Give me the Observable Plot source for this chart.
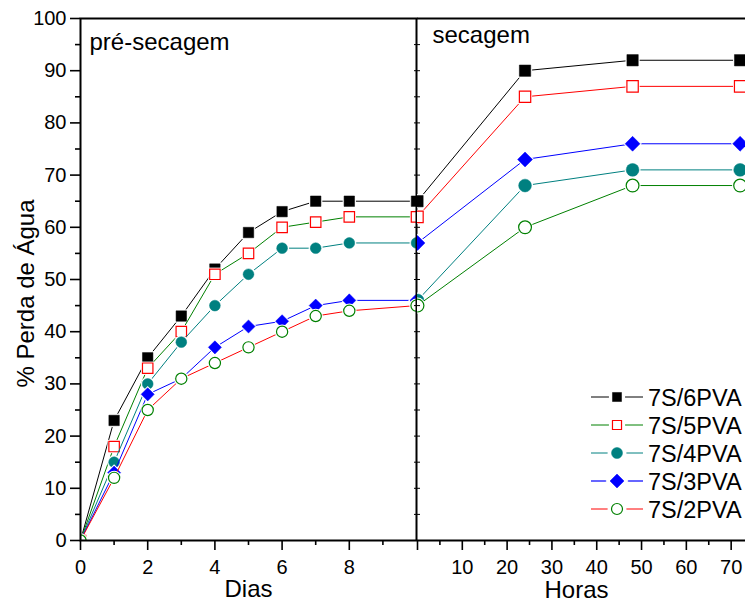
<!DOCTYPE html>
<html><head><meta charset="utf-8">
<script src="https://cdn.jsdelivr.net/npm/d3@7"></script>
<script src="https://cdn.jsdelivr.net/npm/@observablehq/plot@0.6"></script>
<style>
body{margin:0;background:#fff;}
#chart{position:relative;width:745px;height:604px;overflow:hidden;font-family:"Liberation Sans",Arial,sans-serif;background:#fff;}
#chart svg{position:absolute;top:0;max-width:none;}
</style></head><body><div id="chart"></div>
<script>
// ---- data ----
const series = ["7S/6PVA","7S/5PVA","7S/4PVA","7S/3PVA","7S/2PVA"];
const dias = [0,1,2,3,4,5,6,7,8,10];
const pre6PVA = [0,23,35,43,52,59,63,65,65,65];
const pre5PVA = [0,18,33,40,51,55,60,61,62,62];
const pre4PVA = [0,15,30,38,45,51,56,56,57,57];
const pre3PVA = [0,13,28,31,37,41,42,45,46,46];
const pre2PVA = [0,12,25,31,34,37,40,43,44,45];
const horas = [0,24,48,72];
const sec6PVA = [65,90,92,92];
const sec5PVA = [62,85,87,87];
const sec4PVA = [46,68,71,71];
const sec3PVA = [57,73,76,76];
const sec2PVA = [45,60,68,68];
const yTicks = [0,10,20,30,40,50,60,70,80,90,100];
const diasTicks = [0,2,4,6,8];
const horasTicks = [0,10,20,30,40,50,60,70];
const labelPre = "pré-secagem", labelSec = "secagem";
const labelY = "% Perda de Água", labelDias = "Dias", labelHoras = "Horas";

// ---- styles ----
const lineColorPre = ["#000000","#008000","#008080","#0000ff","#ff0000"];
const lineColorSec = ["#000000","#ff0000","#008080","#0000ff","#008000"];
const markColor = ["#000000","#ff0000","#008080","#0000ff","#008000"];
const markSymbol = ["square","square","circle","diamond2","circle"];
const markFilled = [true,false,true,true,false];
const rPre = [5.9,5.9,5.4,5.9,5.6];
const rSec = [6.4,6.4,6.4,6.7,6.4];

const preVals = [pre6PVA,pre5PVA,pre4PVA,pre3PVA,pre2PVA];
const secVals = [sec6PVA,sec5PVA,sec4PVA,sec3PVA,sec2PVA];
const preRows = series.map((s,i)=>dias.map((d,j)=>({serie:s,x:d,y:preVals[i][j]})));
const secRows = series.map((s,i)=>horas.map((h,j)=>({serie:s,x:h,y:secVals[i][j]})));

function seriesMarks(rows, lineColors, radii){
  const marks = [];
  rows.forEach((r,i)=>{
    marks.push(Plot.line(r,{x:"x",y:"y",stroke:lineColors[i],strokeWidth:1,clip:true}));
    marks.push(Plot.dot(r,{x:"x",y:"y",symbol:markSymbol[i],r:radii[i]+1.6,fill:"white",stroke:"none",clip:true}));
    marks.push(Plot.dot(r,{x:"x",y:"y",symbol:markSymbol[i],r:radii[i],
      fill:markFilled[i]?markColor[i]:"white",stroke:markColor[i],strokeWidth:markFilled[i]?0.5:1.2,clip:true}));
  });
  return marks;
}

const font = {fontFamily:"Liberation Sans, Arial, sans-serif", fontSize:"20px", background:"transparent", color:"black", overflow:"visible"};

const left = Plot.plot({
  width:417, height:604, marginLeft:80, marginRight:1, marginTop:18, marginBottom:64,
  style:font,
  x:{domain:[0,10]},
  y:{domain:[0,100]},
  marks:[
    ...seriesMarks(preRows,lineColorPre,rPre),
    Plot.frame({stroke:"black",strokeWidth:2}),
    Plot.axisY({ticks:yTicks,tickSize:10,tickPadding:4,strokeWidth:1.6,fontSize:20,label:null}),
    Plot.axisY({ticks:d3.range(5,100,10),tickSize:5,strokeWidth:1.6,text:null,label:null}),
    Plot.axisY({anchor:"right",ticks:d3.range(5,100,5),tickSize:-3,strokeWidth:1,text:null,label:null}),
    Plot.axisX({ticks:diasTicks,tickSize:10,tickPadding:9,strokeWidth:1.6,fontSize:20,label:null}),
    Plot.axisX({ticks:[1,3,5,7,9],tickSize:5,strokeWidth:1.6,text:null,label:null}),
    Plot.text([labelY],{text:d=>d,frameAnchor:"left",textAnchor:"middle",lineAnchor:"middle",rotate:-90,dx:-54,dy:14,fontSize:24}),
    Plot.text([labelDias],{text:d=>d,frameAnchor:"bottom",textAnchor:"middle",lineAnchor:"middle",dy:49,fontSize:24}),
    Plot.text([labelPre],{text:d=>d,frameAnchor:"top-left",textAnchor:"start",lineAnchor:"middle",dx:9,dy:24.3,fontSize:24})
  ]
});

const right = Plot.plot({
  width:328, height:604, marginLeft:0, marginRight:0, marginTop:18, marginBottom:64,
  style:font,
  x:{domain:[0,73.2]},
  y:{domain:[0,100]},
  marks:[
    ...seriesMarks(secRows,lineColorSec,rSec),
    Plot.ruleY([0,100],{stroke:"black",strokeWidth:2}),
    Plot.axisY({anchor:"left",ticks:d3.range(5,100,5),tickSize:-3,strokeWidth:1,text:null,label:null}),
    Plot.axisX({ticks:horasTicks,tickSize:10,tickPadding:9,strokeWidth:1.6,fontSize:20,label:null,tickFormat:d=>d===0?"":String(d)}),
    Plot.axisX({ticks:d3.range(5,70,10),tickSize:5,strokeWidth:1.6,text:null,label:null}),
    Plot.text([labelHoras],{text:d=>d,frameAnchor:"bottom",textAnchor:"middle",lineAnchor:"middle",dx:-5,dy:50,fontSize:24}),
    Plot.text([labelSec],{text:d=>d,frameAnchor:"top-left",textAnchor:"start",lineAnchor:"middle",dx:15,dy:17.3,fontSize:24})
  ]
});

const chart = document.getElementById("chart");
left.style.left = "0px";
right.style.left = "417px";
chart.appendChild(left);
chart.appendChild(right);

// ---- legend ----
const symbolMap = {square:d3.symbolSquare,circle:d3.symbolCircle,diamond2:d3.symbolDiamond2};
const legR = [5.1,5.1,5.5,6.3,5.5];
const leg = d3.select(chart).append("svg").attr("width",745).attr("height",604)
  .style("left","0px").style("font-family","Liberation Sans, Arial, sans-serif");
series.forEach((s,i)=>{
  const g = leg.append("g").attr("transform",`translate(0,${397+i*28})`);
  g.append("line").attr("x1",591).attr("x2",643).attr("y1",0).attr("y2",0)
    .attr("stroke",lineColorPre[i]).attr("stroke-width",i===3?1.8:1).attr("stroke-opacity",i===3?0.6:1);
  const sym = d3.symbol(symbolMap[markSymbol[i]], Math.PI*(legR[i]+4)**2);
  g.append("path").attr("transform","translate(617,0)").attr("d",sym()).attr("fill","white");
  const sym2 = d3.symbol(symbolMap[markSymbol[i]], Math.PI*legR[i]**2);
  g.append("path").attr("transform","translate(617,0)").attr("d",sym2())
    .attr("fill",markFilled[i]?markColor[i]:"white").attr("stroke",markColor[i]).attr("stroke-width",markFilled[i]?0.5:1.2);
  g.append("text").attr("x",648).attr("y",8.5).attr("font-size",23.5).attr("fill","black").text(s);
});
</script></body></html>
